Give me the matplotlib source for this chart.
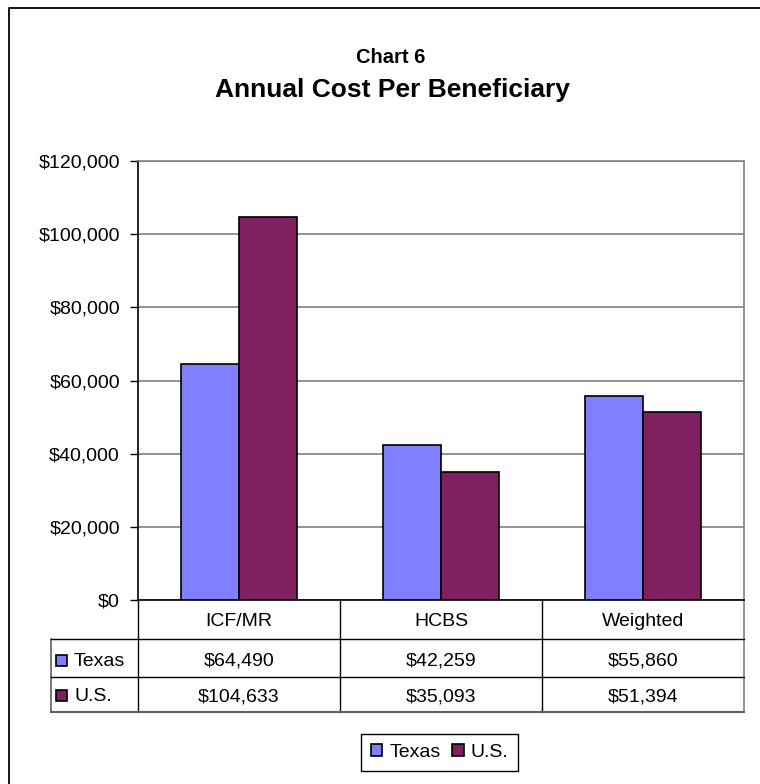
import matplotlib.pyplot as plt
import matplotlib.patches as mpatches
from matplotlib.ticker import FuncFormatter
import numpy as np

plt.rcParams['font.family'] = ['Liberation Sans', 'DejaVu Sans']

# data
categories = ['ICF/MR', 'HCBS', 'Weighted']
series = ['Texas', 'U.S.']
texas = [64490, 42259, 55860]
us = [104633, 35093, 51394]
colors = ['#8080FF', '#802060']

W, H = 760, 784
fig = plt.figure(figsize=(W / 100, H / 100), dpi=100)

# overlay in pixel coords for frame / table
lay = fig.add_axes([0, 0, 1, 1], zorder=0)
lay.set_xlim(0, W)
lay.set_ylim(H, 0)
lay.axis('off')

# outer chart frame (cut off at right and bottom)
lay.plot([9, 9, W + 5], [H + 5, 8, 8], color='black', lw=1.3)

# titles
lay.text(391, 63, 'Chart 6', ha='center', va='baseline',
         fontsize=14.5, fontweight='bold')
lay.text(392, 97, 'Annual Cost Per Beneficiary', ha='center',
         va='baseline', fontsize=19, fontweight='bold')

# plot area
pl, pr, pt, pb = 138, 744, 161, 600
ax = fig.add_axes([pl / W, 1 - pb / H, (pr - pl) / W, (pb - pt) / H], zorder=2)
ax.set_facecolor('none')

x = np.arange(len(categories))
bw = 0.285
ax.bar(x - bw / 2, texas, bw, color=colors[0], edgecolor='black', lw=1.2, zorder=3)
ax.bar(x + bw / 2, us, bw, color=colors[1], edgecolor='black', lw=1.2, zorder=3)

ax.set_xlim(-0.5, 2.5)
ax.set_ylim(0, 120000)
ax.set_yticks(np.arange(0, 120001, 20000))
ax.yaxis.set_major_formatter(FuncFormatter(lambda v, p: '${:,.0f}'.format(v)))
ax.set_xticks([])
ax.tick_params(axis='y', length=6, width=1, pad=7, labelsize=14, direction='out')
ax.yaxis.grid(True, color='#808080', lw=1.2, zorder=0)
for s in ['top', 'right']:
    ax.spines[s].set_color('#808080')
    ax.spines[s].set_linewidth(1.2)
for s in ['left', 'bottom']:
    ax.spines[s].set_color('black')
    ax.spines[s].set_linewidth(1.2)

# data table
tl = 51
colw = (pr - pl) / len(categories)
rows = [600, 639, 677, 712]
baselines = [626, 666, 701]
lc = 'black'
# vertical lines
lay.plot([tl, tl], [rows[1], rows[3]], color='#606060', lw=1.2)
for i in range(len(categories)):
    xl = pl + i * colw
    lay.plot([xl, xl], [rows[0], rows[3]], color=lc, lw=1)
lay.plot([pr, pr], [rows[0], rows[3]], color='#808080', lw=1.2)
# horizontal lines
lay.plot([tl, pr], [rows[1], rows[1]], color=lc, lw=1)
lay.plot([tl, pr], [rows[2], rows[2]], color=lc, lw=1)
lay.plot([tl, pr], [rows[3], rows[3]], color='#606060', lw=1.5)

for i, c in enumerate(categories):
    lay.text(pl + (i + 0.5) * colw, baselines[0], c, ha='center',
             va='baseline', fontsize=14)
for r, (name, vals) in enumerate(zip(series, [texas, us])):
    yb = baselines[r + 1]
    lay.add_patch(mpatches.Rectangle((56, yb - 11), 10.5, 10.5, facecolor=colors[r],
                                     edgecolor='black', lw=1.2))
    lay.text(74, yb, name, ha='left', va='baseline', fontsize=14)
    for i, v in enumerate(vals):
        lay.text(pl + (i + 0.5) * colw, yb, '${:,}'.format(v), ha='center',
                 va='baseline', fontsize=14)

# legend
handles = [mpatches.Patch(facecolor=colors[i], edgecolor='black', lw=1.2, label=series[i])
           for i in range(2)]
leg = fig.legend(handles=handles, loc='center', ncol=2,
                 bbox_to_anchor=((363 + 516) / 2 / W, 1 - 752.5 / H),
                 fontsize=14, handlelength=0.6, handleheight=0.6,
                 handletextpad=0.35, columnspacing=0.6, borderpad=0.5,
                 fancybox=False, framealpha=1)
leg.get_frame().set_edgecolor('black')
leg.get_frame().set_linewidth(1)

fig.savefig('out.png', dpi=100)
